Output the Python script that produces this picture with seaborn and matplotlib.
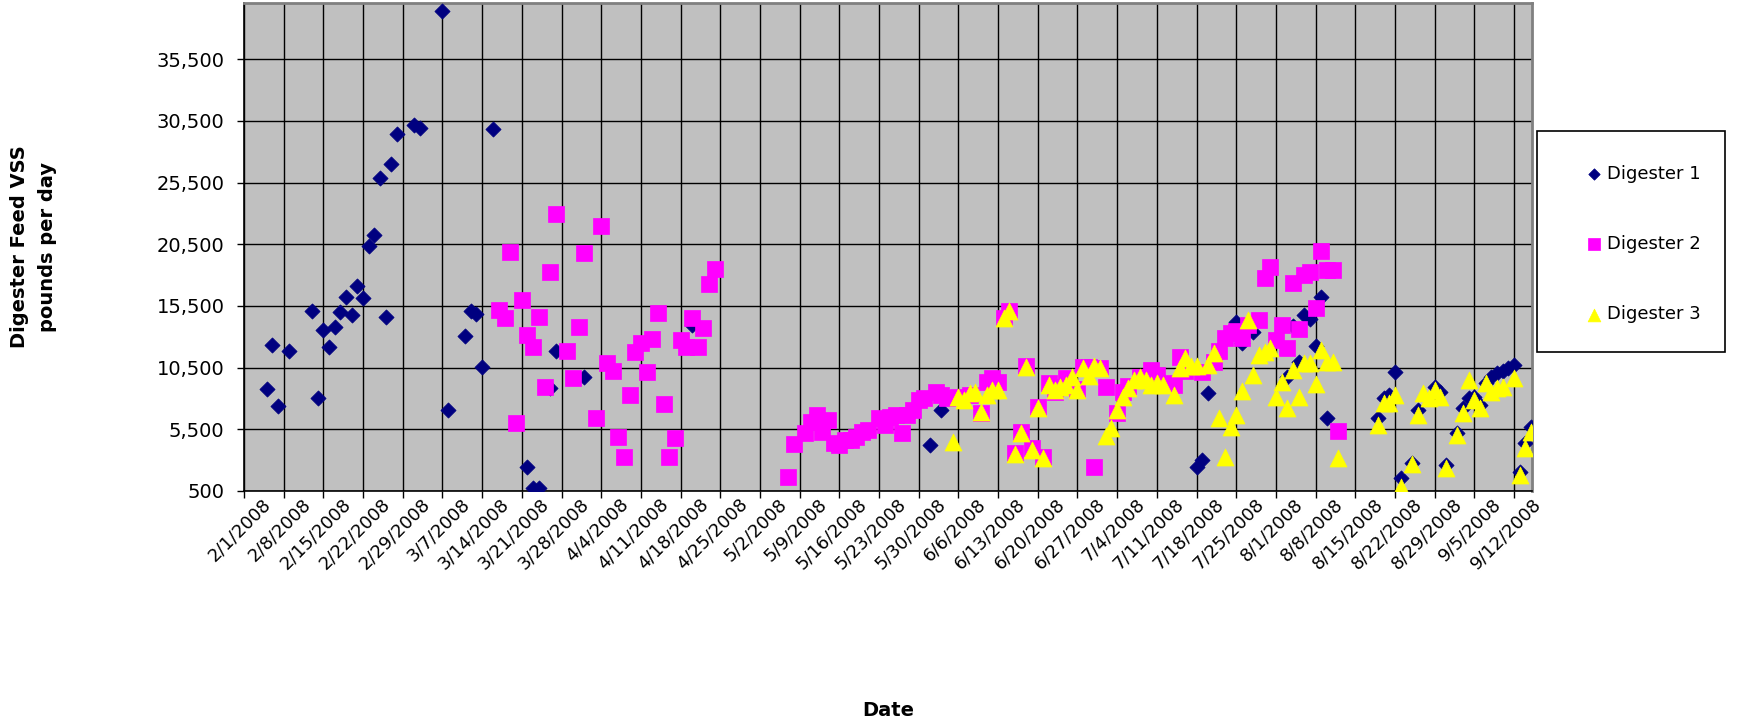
import pandas as pd
import seaborn as sns
import matplotlib.pyplot as plt
import matplotlib.ticker as mticker
import matplotlib.transforms as mtransforms
from matplotlib.patches import Rectangle

start = pd.Timestamp('2008-02-01')

# days after 2/1/2008 and pounds per day
d1_day = [4, 5, 6, 8, 12, 13, 14, 15, 16, 17, 18, 19, 20, 21, 22, 23, 24, 25, 26, 27,
          30, 31, 35, 36, 39, 40, 41, 42, 44, 50, 51, 52, 54, 55, 60, 79, 121, 123,
          168, 169, 170, 175, 176, 178, 184, 185, 186, 187, 188, 189, 190, 191,
          200, 201, 202, 203, 204, 206, 207, 210, 211, 212, 214, 215, 216, 217, 218,
          219, 220, 221, 222, 223, 224, 225, 226, 227]
d1_vss = [8760, 12330, 7390, 11840, 15080, 8030, 13540, 12160, 13780, 15000, 16210, 14760,
          17100, 16130, 20350, 21240, 25850, 14590, 26990, 29420,
          30150, 29900, 39380, 7060, 13060, 15080, 14840, 10540, 29820, 2440, 740, 740,
          8840, 11840, 9730, 13950, 4230, 7060,
          2440, 3010, 8440, 14190, 12490, 13380, 9730, 13870, 10950, 14760, 14430, 12250,
          16210, 6410,
          6410, 8030, 8280, 10140, 1550, 2770, 7060, 8920, 8520, 2610, 5200, 7220, 8030,
          8110, 7470, 9250, 9730, 10060, 10220, 10460, 10710, 2040, 4390, 5680]

d2_day = [45, 46, 47, 48, 49, 50, 51, 52, 53, 54, 55, 57, 58, 59, 60, 62, 63, 64, 65, 66,
          67, 68, 69, 70, 71, 72, 73, 74, 75, 76, 77, 78, 79, 80, 81, 82, 83,
          96, 97, 99, 100, 101, 102, 103, 104, 105, 106, 107, 108, 109, 110, 112, 113,
          114, 115, 116, 117, 118, 119, 120, 122, 123, 124, 126, 128, 130, 131, 132, 133,
          134, 135, 136, 137, 138, 139, 140, 141, 142, 143, 144, 145, 147, 148, 149, 150,
          151, 152, 154, 155, 156, 158, 160, 161, 163, 164, 165, 166, 169, 171, 172, 173,
          174, 175, 176, 177, 179, 180, 181, 182, 183, 184, 185, 186, 187, 188, 189, 190,
          191, 192, 193]
d2_vss = [15160, 14510, 19860, 6010, 15970, 13140, 12160, 14590, 8920, 18240, 22940, 11840,
          9650, 13780, 19780, 6410, 21970, 10870, 10220, 4870,
          3250, 8280, 11760, 12490, 10140, 12810, 14920, 7550, 3250, 4790, 12730, 12160,
          14510, 12160, 13700, 17270, 18480,
          1630, 4310, 5200, 6090, 6660, 5280, 6250, 4390, 4230, 4630, 4630, 4870, 5280,
          5440, 6410, 5850,
          6490, 6660, 5200, 6660, 7060, 7870, 8000, 8520, 8280, 8030, 8110, 8280, 6820,
          9330, 9650, 9330,
          14510, 15080, 3580, 5280, 10630, 3980, 7300, 3250, 9250, 8520, 8920, 9650, 8760,
          10540, 10540, 2440,
          10460, 8920, 6820, 8520, 9000, 9730, 10300, 9900, 9250, 9090, 11350, 10200, 10140,
          10950, 11840, 12900,
          13300, 13460, 12900, 13950, 14350, 17750, 18640, 12730, 13950, 12080, 17350, 13620,
          18000, 18240, 15320, 19940,
          18400, 18400, 5360]

d3_day = [125, 126, 127, 128, 129, 130, 131, 132, 133, 134, 135, 136, 137, 138, 139, 140,
          141, 142, 143, 144, 145, 146, 147, 148, 149, 150, 151, 152, 153, 154, 155, 156,
          157, 158, 159, 160, 161, 162, 164, 165, 166, 167, 168, 170, 171, 172, 173, 174,
          175, 176, 177, 178, 179, 180, 181, 182, 183, 184, 185, 186, 187, 188, 189, 190,
          191, 192, 193, 200, 201, 202, 203, 204, 206, 207, 208, 209, 210, 211, 212, 214,
          215, 216, 217, 218, 219, 220, 221, 222, 224, 225, 226, 227]
d3_vss = [4470, 8110, 7870, 8440, 8520, 6900, 8280, 8680, 8680, 14510, 15080, 3500, 5200,
          10540, 3820, 7220,
          3170, 9090, 8680, 8920, 9090, 9730, 8680, 10460, 9810, 10620, 10460, 4960, 5600,
          7060, 8110, 8840,
          9490, 9730, 9490, 9090, 9250, 9090, 8280, 10460, 11280, 10620, 10620, 10710, 11680,
          6410, 3250, 5680,
          6660, 8600, 14350, 9900, 11520, 11760, 12080, 8110, 9330, 7220, 10300, 8110, 10870,
          10870, 9170, 11920,
          10950, 10950, 3170, 5850, 7630, 7630, 8280, 820, 2690, 6660, 8440, 8030, 8680, 8110,
          2360, 5040,
          6820, 9490, 7870, 7220, 9250, 8520, 8840, 8920, 9650, 1800, 3980, 5280]

series_names = ['Digester 1', 'Digester 2', 'Digester 3']
series_colors = ['#000080', '#FF00FF', '#FFFF00']
y_ticks = [500, 5500, 10500, 15500, 20500, 25500, 30500, 35500]


def make_frame(days, vss):
    return pd.DataFrame({'Date': start + pd.to_timedelta(days, unit='D'), 'VSS': vss})


frames = [make_frame(d1_day, d1_vss), make_frame(d2_day, d2_vss), make_frame(d3_day, d3_vss)]
markers = ['D', 's', '^']
sizes = [60, 130, 150]

plt.rcParams['font.family'] = ['DejaVu Sans']
fig = plt.figure(figsize=(17.48, 7.24), dpi=100)
ax = fig.add_axes([244 / 1748, 1 - 491 / 724, (1532 - 244) / 1748, 488 / 724])
ax.set_facecolor('#C0C0C0')

for df, name, color, mk, s in zip(frames, series_names, series_colors, markers, sizes):
    sns.scatterplot(data=df, x='Date', y='VSS', ax=ax, marker=mk, s=s, color=color,
                    edgecolor=color, linewidth=0.5, label=name, zorder=3)

week_ticks = pd.date_range('2008-02-01', '2008-09-12', freq='7D')
ax.set_xticks(week_ticks)
ax.set_xticklabels([f'{d.month}/{d.day}/{d.year}' for d in week_ticks],
                   rotation=45, ha='right', rotation_mode='anchor')
ax.set_xlim(pd.Timestamp('2008-02-01'), pd.Timestamp('2008-09-15 04:00'))
ax.set_yticks(y_ticks)
ax.yaxis.set_major_formatter(mticker.StrMethodFormatter('{x:,.0f}'))
ax.set_ylim(500, 40050)

ax.grid(True, color='black', linewidth=1)
ax.set_axisbelow(True)
ax.tick_params(axis='both', direction='out', length=5, width=1, color='black')
ax.tick_params(axis='y', pad=9, labelsize=14)
ax.tick_params(axis='x', pad=4, labelsize=13)
for side in ['left', 'bottom']:
    ax.spines[side].set_color('black')
    ax.spines[side].set_linewidth(1.2)
for side in ['top', 'right']:
    ax.spines[side].set_color('#808080')
    ax.spines[side].set_linewidth(2)

# excel puts the rotated labels a little right of the tick
shift = mtransforms.ScaledTranslation(13 / 72, 6 / 72, fig.dpi_scale_trans)
for tick in ax.xaxis.get_major_ticks():
    tick.label1.set_transform(tick.label1.get_transform() + shift)

ax.set_xlabel('Date', fontsize=14, fontweight='bold')
ax.set_ylabel('Digester Feed VSS\npounds per day', fontsize=14, fontweight='bold',
              linespacing=1.6)
ax.xaxis.set_label_coords(0.5, -0.43)
ax.yaxis.set_label_coords(-0.145, 0.5)

leg = ax.legend(loc='center left', bbox_to_anchor=(1587 / 1748, 1 - 244 / 724),
                bbox_transform=fig.transFigure, frameon=False, fontsize=13,
                labelspacing=2.9, handlelength=0.8, handletextpad=0.3,
                borderpad=0, borderaxespad=0, markerscale=0.75)
fig.patches.append(Rectangle((1537 / 1748, 1 - 352 / 724), (1725 - 1537) / 1748,
                             (352 - 131) / 724, transform=fig.transFigure, fill=False,
                             edgecolor='black', linewidth=1.2))

fig.savefig('out.png', dpi=100)
